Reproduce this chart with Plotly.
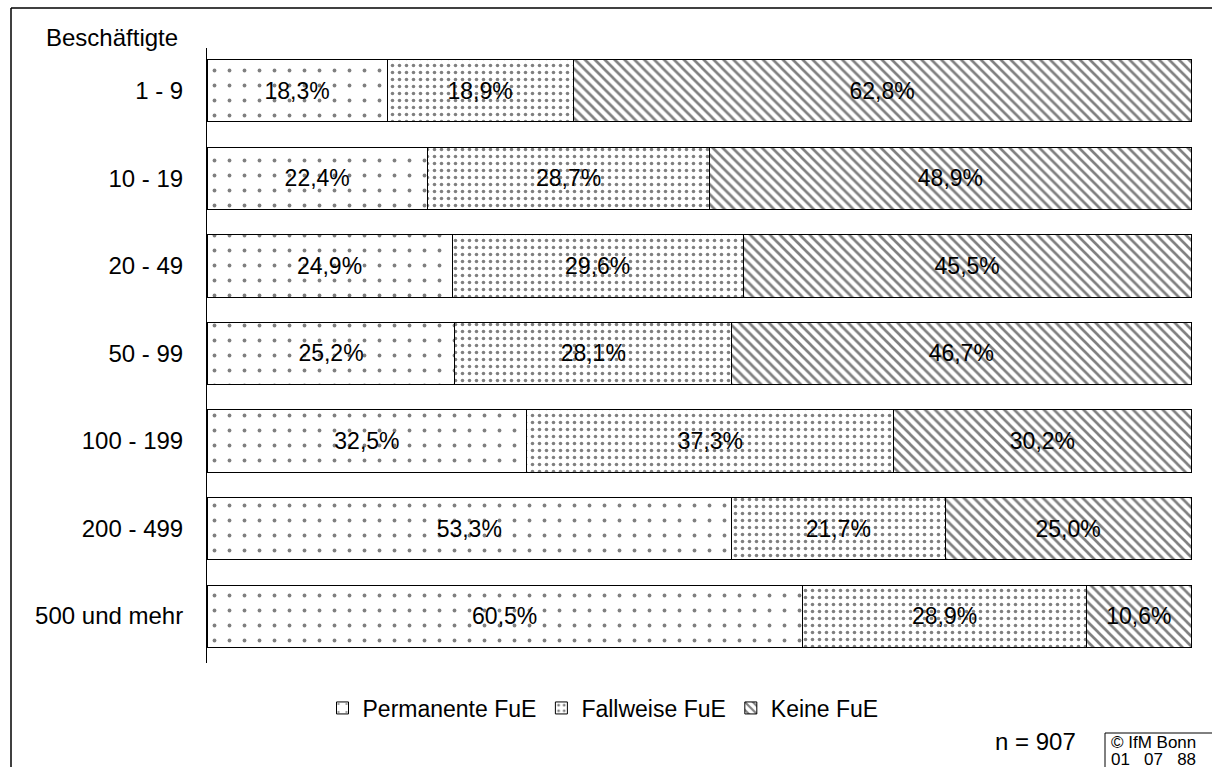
import plotly.graph_objects as go

categories = ["1 - 9", "10 - 19", "20 - 49", "50 - 99", "100 - 199", "200 - 499", "500 und mehr"]
permanente = [18.3, 22.4, 24.9, 25.2, 32.5, 53.3, 60.5]
fallweise = [18.9, 28.7, 29.6, 28.1, 37.3, 21.7, 28.9]
keine = [62.8, 48.9, 45.5, 46.7, 30.2, 25.0, 10.6]
series_names = ["Permanente FuE", "Fallweise FuE", "Keine FuE"]

W_IMG, H_IMG = 1212, 767
L, R, T, B = 207, 19, 48, 104
PW = W_IMG - L - R
PH = H_IMG - T - B

def px(x):
    return (x - L) / PW

def py(y):
    return (H_IMG - B - y) / PH

def fmt(v):
    return f"{v:.1f}%".replace(".", ",")

FONT = "Liberation Sans, Arial, sans-serif"

patterns = [
    dict(shape=".", fgcolor="black", bgcolor="white", size=15, solidity=0.05),
    dict(shape=".", fgcolor="black", bgcolor="white", size=7, solidity=0.2),
    dict(shape="\\", fgcolor="black", bgcolor="white", size=7, solidity=0.38),
]

fig = go.Figure()
for name, vals, pat in zip(series_names, [permanente, fallweise, keine], patterns):
    fig.add_trace(go.Bar(
        y=categories, x=vals, name=name, orientation="h",
        text=[fmt(v) for v in vals], textposition="inside",
        insidetextanchor="middle", textangle=0,
        textfont=dict(family=FONT, size=23, color="black"),
        marker=dict(color="white", pattern=pat, line=dict(color="black", width=1)),
        hoverinfo="skip",
    ))

shapes = [
    dict(type="line", xref="paper", yref="paper", x0=px(11), x1=px(1212), y0=py(8), y1=py(8),
         line=dict(color="black", width=1.5)),
    dict(type="line", xref="paper", yref="paper", x0=px(11), x1=px(11), y0=py(8), y1=py(767),
         line=dict(color="black", width=1.5)),
    dict(type="line", xref="paper", yref="paper", x0=px(1105), x1=px(1212), y0=py(733), y1=py(733),
         line=dict(color="black", width=1)),
    dict(type="line", xref="paper", yref="paper", x0=px(1105), x1=px(1105), y0=py(733), y1=py(767),
         line=dict(color="black", width=1)),
]

annotations = [
    dict(text="Beschäftigte", xref="paper", yref="paper", x=px(44), y=py(37),
         xanchor="left", yanchor="middle", showarrow=False, font=dict(family=FONT, size=24, color="black")),
    dict(text="n = 907", xref="paper", yref="paper", x=px(1035), y=py(741),
         xanchor="center", yanchor="middle", showarrow=False, font=dict(family=FONT, size=24, color="black")),
    dict(text="© IfM Bonn", xref="paper", yref="paper", x=px(1109), y=py(742),
         xanchor="left", yanchor="middle", showarrow=False, font=dict(family=FONT, size=17, color="black")),
    dict(text="01   07   88", xref="paper", yref="paper", x=px(1109), y=py(759),
         xanchor="left", yanchor="middle", showarrow=False, font=dict(family=FONT, size=17, color="black")),
]

fig.update_layout(
    barmode="stack",
    bargap=0.29,
    width=W_IMG, height=H_IMG,
    margin=dict(l=L, r=R, t=T, b=B, pad=0),
    paper_bgcolor="white", plot_bgcolor="white",
    font=dict(family=FONT, size=24, color="black"),
    showlegend=True,
    legend=dict(orientation="h", xref="container", yref="container", x=603 / W_IMG, y=1 - 708 / H_IMG,
                xanchor="center", yanchor="middle", font=dict(family=FONT, size=23, color="black"),
                itemwidth=30, traceorder="normal", bgcolor="rgba(0,0,0,0)"),
    xaxis=dict(range=[0, 100.2], visible=False, showgrid=False, zeroline=False),
    yaxis=dict(categoryorder="array", categoryarray=categories, range=[6.536, -0.49],
               showline=True, linecolor="black", linewidth=1, ticks="", showgrid=False,
               zeroline=False, ticklabelstandoff=18, tickfont=dict(family=FONT, size=24, color="black")),
    shapes=shapes,
    annotations=annotations,
)

fig.write_html("out.html", config={"displayModeBar": False},
               post_script="document.body.style.margin='0';")
